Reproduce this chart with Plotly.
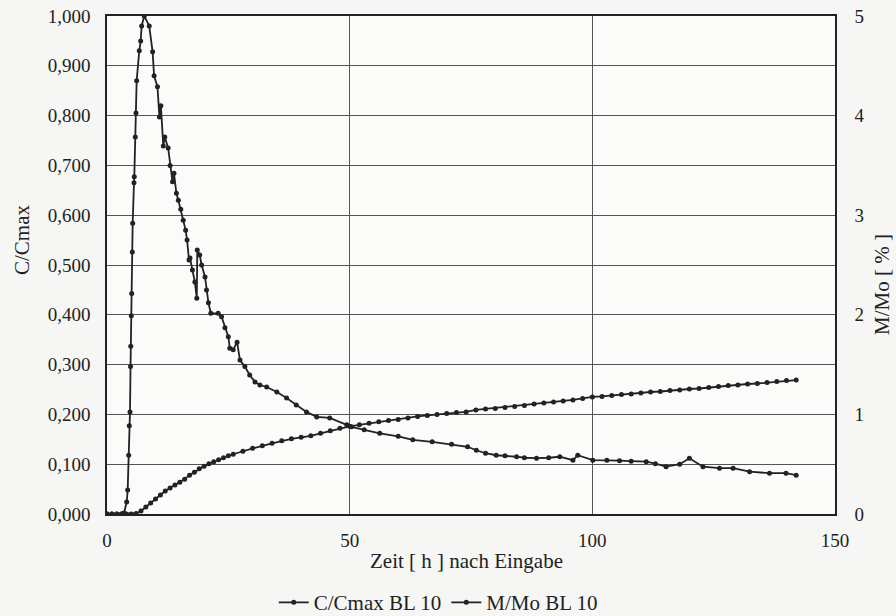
import plotly.graph_objects as go

# C/Cmax BL 10 (left axis)
t_c = [0, 1, 2, 3, 3.5, 4.06, 4.26, 4.47, 4.59, 4.74, 4.85, 4.9, 5.0, 5.09, 5.21, 5.29, 5.56, 5.62,
       5.83, 5.97, 6.11, 6.65, 6.94, 7.14, 7.68, 8.7, 9.4, 9.7, 10.4, 10.8, 11.1, 11.6, 11.9, 12.6,
       13.0, 13.5, 13.8, 14.3, 14.7, 15.2, 15.7, 16.2, 16.5, 16.9, 17.1, 17.6, 18.1, 18.5, 18.6,
       19.1, 19.5, 20.2, 20.5, 20.9, 21.4, 22.9, 23.6, 24.3, 25.0, 25.3, 26.0, 26.8, 27.4, 28.4,
       29.4, 30.5, 31.5, 32.9, 35, 37, 39, 41.1, 43.2, 45.9, 49.4, 50.4, 53, 56.2, 60, 63, 67, 71,
       74.3, 76.1, 78, 80.2, 82, 84.4, 86, 88.5, 91, 93.3, 96, 97, 100.1, 103, 105.6, 108, 111.1,
       113, 115.2, 118, 120, 122.8, 126.2, 129, 132.4, 136.5, 139.9, 142]
c_c = [0, 0, 0, 0, 0.002, 0.024, 0.048, 0.118, 0.177, 0.205, 0.296, 0.337, 0.398, 0.443, 0.526,
       0.584, 0.665, 0.677, 0.757, 0.805, 0.87, 0.93, 0.95, 0.98, 1.0, 0.98, 0.928, 0.88, 0.858,
       0.797, 0.82, 0.739, 0.757, 0.735, 0.70, 0.667, 0.684, 0.644, 0.63, 0.612, 0.59, 0.57, 0.55,
       0.51, 0.514, 0.49, 0.466, 0.433, 0.53, 0.52, 0.50, 0.476, 0.45, 0.424, 0.403, 0.403, 0.396,
       0.374, 0.356, 0.333, 0.33, 0.345, 0.309, 0.296, 0.279, 0.265, 0.259, 0.255, 0.245, 0.233,
       0.219, 0.205, 0.195, 0.193, 0.179, 0.175, 0.169, 0.162, 0.156, 0.149, 0.145, 0.140, 0.135,
       0.128, 0.122, 0.118, 0.117, 0.115, 0.113, 0.112, 0.113, 0.115, 0.108, 0.118, 0.108, 0.108,
       0.107, 0.106, 0.105, 0.101, 0.095, 0.1, 0.112, 0.095, 0.092, 0.092, 0.085, 0.082, 0.082,
       0.078]

# M/Mo BL 10 (right axis, %)
t_m = [0, 1, 2, 3, 4, 5, 6, 7, 8, 9, 10, 11, 12, 13, 14, 15, 16, 17, 18, 19, 20, 21, 22, 23, 24,
       25, 26, 28, 30, 32, 34, 36, 38, 40, 42, 44, 46, 48, 50, 52, 54, 56, 58, 60, 62, 64, 66, 68,
       70, 72, 74, 76, 78, 80, 82, 84, 86, 88, 90, 92, 94, 96, 98, 100, 102, 104, 106, 108, 110,
       112, 114, 116, 118, 120, 122, 124, 126, 128, 130, 132, 134, 136, 138, 140, 142]
m_m = [0, 0, 0, 0, 0, 0, 0.005, 0.03, 0.07, 0.11, 0.15, 0.19, 0.23, 0.26, 0.29, 0.32, 0.35, 0.39,
       0.42, 0.455, 0.48, 0.505, 0.525, 0.545, 0.565, 0.585, 0.6, 0.63, 0.66, 0.685, 0.71, 0.735,
       0.755, 0.77, 0.785, 0.81, 0.835, 0.86, 0.88, 0.895, 0.91, 0.925, 0.94, 0.95, 0.965, 0.98,
       0.99, 1.0, 1.01, 1.02, 1.025, 1.045, 1.055, 1.06, 1.07, 1.08, 1.09, 1.105, 1.115, 1.125,
       1.135, 1.145, 1.16, 1.175, 1.18, 1.19, 1.2, 1.205, 1.215, 1.225, 1.23, 1.24, 1.245, 1.255,
       1.26, 1.27, 1.28, 1.29, 1.295, 1.305, 1.31, 1.32, 1.33, 1.34, 1.345]

left_ticks = [0, 0.1, 0.2, 0.3, 0.4, 0.5, 0.6, 0.7, 0.8, 0.9, 1.0]
right_ticks = [0, 1, 2, 3, 4, 5]
x_ticks = [0, 50, 100, 150]

FONT = "Liberation Serif, serif"
INK = "#222222"
tick_font = dict(family=FONT, size=19, color=INK)
title_font = dict(family=FONT, size=21, color=INK)

fig = go.Figure()
fig.add_trace(go.Scatter(x=t_c, y=c_c, name="C/Cmax BL 10", mode="lines+markers",
                         line=dict(color=INK, width=1.8),
                         marker=dict(color=INK, size=5), yaxis="y"))
fig.add_trace(go.Scatter(x=t_m, y=m_m, name="M/Mo BL 10", mode="lines+markers",
                         line=dict(color=INK, width=1.8),
                         marker=dict(color=INK, size=5), yaxis="y2"))

fig.update_layout(
    width=896, height=616,
    margin=dict(l=107, r=61, t=16, b=102, autoexpand=False),
    paper_bgcolor="#f6f6f4", plot_bgcolor="#fbfbfa",
    separators=",.",
    font=dict(family=FONT, size=19, color=INK),
    showlegend=True,
    legend=dict(orientation="h", x=0.455, xanchor="center", y=-0.178, yanchor="middle",
                bgcolor="rgba(0,0,0,0)", font=title_font, itemwidth=30),
    xaxis=dict(range=[0, 150], tickvals=x_ticks, showgrid=True, gridcolor="#555", gridwidth=1,
               showline=True, linecolor=INK, linewidth=1.5, mirror=True, zeroline=False,
               ticks="", ticklabelstandoff=8, tickfont=tick_font),
    yaxis=dict(range=[0, 1], tickvals=left_ticks, tickformat=".3f", showgrid=True,
               gridcolor="#555", gridwidth=1, showline=True, linecolor=INK, linewidth=1.5,
               mirror=True, zeroline=False, ticks="", ticklabelstandoff=11, tickfont=tick_font),
    yaxis2=dict(range=[0, 5], tickvals=right_ticks, overlaying="y", side="right",
                showgrid=False, showline=True, linecolor=INK, linewidth=1.5, zeroline=False,
                ticks="", ticklabelstandoff=14, tickfont=tick_font),
    annotations=[
        dict(text="Zeit [ h ] nach Eingabe", x=466, y=561, xref="paper", yref="paper",
             showarrow=False, font=title_font),
        dict(text="C/Cmax", x=22, y=240, xref="paper", yref="paper", showarrow=False,
             textangle=-90, font=title_font),
        dict(text="M/Mo [ % ]", x=882, y=285, xref="paper", yref="paper", showarrow=False,
             textangle=-90, font=title_font),
    ],
)

# convert pixel-placed annotations to paper coords
pw, ph = 896 - 107 - 61, 616 - 16 - 102
new_ann = []
for a in fig.layout.annotations:
    a.x = (a.x - 107) / pw
    a.y = (616 - 102 - a.y) / ph
    a.xanchor = "center"
    a.yanchor = "middle"
    new_ann.append(a)
fig.layout.annotations = new_ann

fig.write_html("out.html")
